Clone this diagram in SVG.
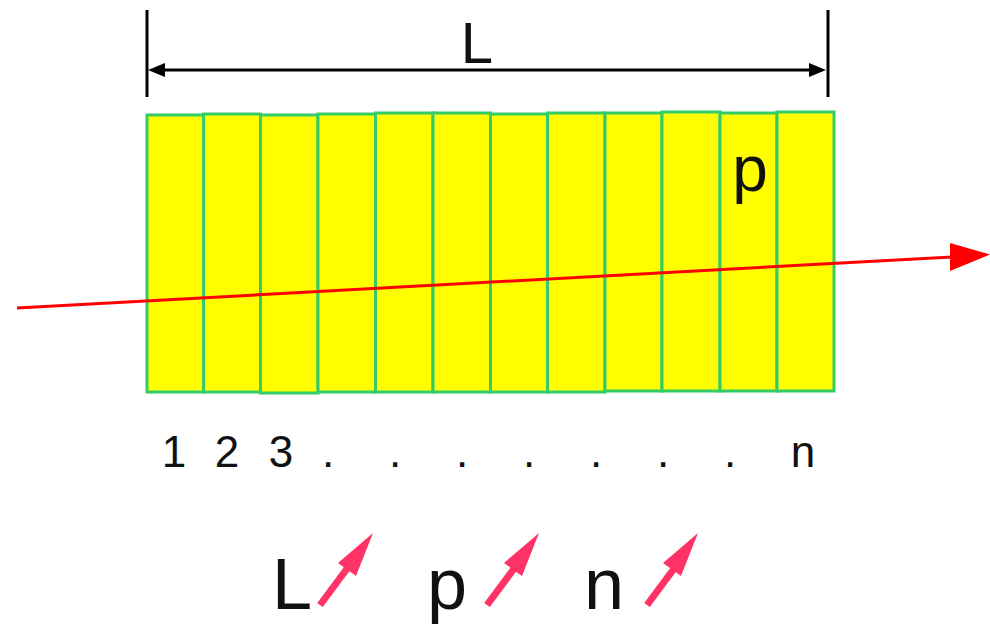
<svg xmlns="http://www.w3.org/2000/svg" width="990" height="626" viewBox="0 0 990 626">
<style>
.cell{fill:#ffff00;stroke:#33cc66;stroke-width:3}
.t{font-family:"Liberation Sans",Arial,sans-serif;fill:#111111}
.pk{stroke:#ff3366;stroke-width:7;fill:none}
</style>
<rect width="990" height="626" fill="#ffffff"/>
<g id="dimension">
<line x1="147" y1="10" x2="147" y2="97" stroke="#000" stroke-width="3"/>
<line x1="828" y1="10" x2="828" y2="97" stroke="#000" stroke-width="3"/>
<line x1="160" y1="70" x2="812" y2="70" stroke="#000" stroke-width="3"/>
<polygon points="148,70 165,63 165,77" fill="#000"/>
<polygon points="826,70 809,63 809,77" fill="#000"/>
<text class="t" x="477" y="63" font-size="58" text-anchor="middle">L</text>
</g>
<g id="cells">
<rect class="cell" x="147" y="115" width="56.5" height="277"/>
<rect class="cell" x="203.5" y="114" width="57" height="278"/>
<rect class="cell" x="260.5" y="115" width="57.5" height="278"/>
<rect class="cell" x="318" y="114" width="57.5" height="278"/>
<rect class="cell" x="375.5" y="113" width="57.5" height="279"/>
<rect class="cell" x="433" y="113" width="57.5" height="279"/>
<rect class="cell" x="490.5" y="114" width="57" height="278"/>
<rect class="cell" x="547.5" y="113" width="57.5" height="279"/>
<rect class="cell" x="605" y="113" width="57" height="278"/>
<rect class="cell" x="662" y="112" width="58" height="279"/>
<rect class="cell" x="720" y="113" width="57" height="278"/>
<rect class="cell" x="777" y="112" width="57" height="279"/>
<text class="t" x="750" y="191" font-size="64" text-anchor="middle">p</text>
</g>
<g id="connectors">
<line x1="17" y1="308" x2="952" y2="257" stroke="#ff0000" stroke-width="3"/>
<polygon points="990,254.5 950,243 950,271" fill="#ff0000"/>
</g>
<g id="indices" class="t" font-size="44" text-anchor="middle">
<text class="t" x="174" y="467">1</text>
<text class="t" x="227" y="467">2</text>
<text class="t" x="281" y="467">3</text>
<text class="t" x="328" y="467">.</text>
<text class="t" x="395" y="467">.</text>
<text class="t" x="462" y="467">.</text>
<text class="t" x="529" y="467">.</text>
<text class="t" x="596" y="467">.</text>
<text class="t" x="663" y="467">.</text>
<text class="t" x="730" y="467">.</text>
<text class="t" x="803" y="467">n</text>
</g>
<g id="legend">
<text class="t" x="292" y="609" font-size="72" text-anchor="middle">L</text>
<text class="t" x="447" y="609" font-size="72" text-anchor="middle">p</text>
<text class="t" x="604" y="609" font-size="72" text-anchor="middle">n</text>
<line class="pk" x1="320" y1="605" x2="349" y2="566"/>
<polygon points="373,533 338,563 356,576" fill="#ff3366"/>
<line class="pk" x1="487" y1="605" x2="516" y2="566"/>
<polygon points="539,533 504,563 522,576" fill="#ff3366"/>
<line class="pk" x1="647" y1="605" x2="676" y2="566"/>
<polygon points="698,533 663,563 681,576" fill="#ff3366"/>
</g>
</svg>
